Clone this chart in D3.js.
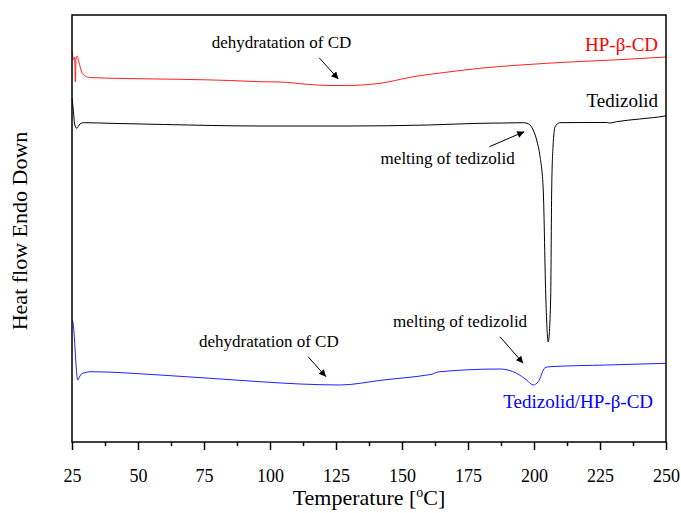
<!DOCTYPE html>
<html>
<head>
<meta charset="utf-8">
<script src="https://cdn.jsdelivr.net/npm/d3@7"></script>
<style>
  body { margin: 0; background: #fff; }
  svg text { font-family: "Liberation Serif", "Times New Roman", serif; }
</style>
</head>
<body>
<div id="chart"></div>
<script>
// DSC curves, temperature in deg C, heat flow in arbitrary units (endo down)
var hpbcd = [
  [25.0, 39.2], [25.6, 38.2], [26.0, 38.5], [26.3, 36.0], [26.5, 38.3], [26.9, 38.6],
  [27.6, 38.0], [28.7, 37.0], [30.0, 36.6], [31.8, 36.45], [45, 36.35], [65.9, 36.27],
  [85, 36.15], [96.2, 36.03], [103.8, 36.0], [115, 35.75], [122.7, 35.65], [129, 35.65],
  [141.7, 35.87], [154.3, 36.53], [166, 36.95], [179.5, 37.37], [192, 37.65], [204.8, 37.87],
  [217, 38.05], [230, 38.2], [240, 38.35], [250, 38.5]
];
var tedizolid = [
  [25.0, 34.4], [25.5, 33.2], [26.0, 31.8], [26.8, 31.37], [28.0, 31.8], [29.3, 31.93],
  [39.4, 31.87], [60, 31.75], [96.2, 31.6], [130, 31.6], [160, 31.7], [179.5, 31.87],
  [188.3, 31.9], [196.0, 31.93], [198.0, 31.8], [199.7, 31.2], [201.2, 30.0], [202.3, 28.53],
  [203.5, 25.2], [204.5, 14.2], [205.4, 10.0], [206.3, 14.2], [206.7, 25.2], [207.2, 29.5],
  [208.0, 31.53], [209.8, 31.93], [220, 31.95], [227.5, 31.95], [228.8, 31.9], [231.3, 32.03],
  [240, 32.3], [249.6, 32.6], [250, 32.62]
];
var complex = [
  [25.0, 12.2], [25.3, 12.03], [27.2, 6.2], [27.8, 6.5], [28.8, 6.85], [29.9, 6.93],
  [31.8, 7.03], [58.3, 6.7], [96.2, 6.03], [111.4, 5.8], [126.5, 5.7], [142.8, 6.2],
  [159.5, 6.7], [161.7, 6.8], [162.9, 6.95], [164.4, 7.03], [187.1, 7.3], [193.4, 6.87],
  [197.2, 6.2], [199.7, 5.7], [201.6, 6.03], [204.2, 7.43], [206.1, 7.53], [227.5, 7.7],
  [250, 7.87]
];

var xTicks = [25, 50, 75, 100, 125, 150, 175, 200, 225, 250];
var xMinor = [37.5, 62.5, 87.5, 112.5, 137.5, 162.5, 187.5, 212.5, 237.5];

// series labels: [text, T, heat flow, colour]
var seriesLabels = [
  ["HP-\u03b2-CD", 247.0, 39.15, "#ff0000"],
  ["Tedizolid", 247.0, 33.53, "#000000"],
  ["Tedizolid/HP-\u03b2-CD", 245.1, 3.4, "#0000ff"]
];
// annotations: [text, textT, textV, fromT, fromV, toT, toV]
var notes = [
  ["dehydratation of CD", 77.9, 39.4, 118.6, 38.43, 125.9, 36.3],
  ["melting of tedizolid", 141.9, 27.8, 183.1, 29.53, 196.3, 31.03],
  ["dehydratation of CD", 73.1, 9.5, 114.4, 8.53, 121.2, 6.53],
  ["melting of tedizolid", 146.6, 11.5, 187.1, 10.53, 195.9, 7.87]
];

var margin = {top: 15, right: 15, bottom: 71, left: 72},
    width = 681 - margin.left - margin.right,
    height = 513 - margin.top - margin.bottom;

var svg = d3.select("#chart").append("svg")
    .attr("width", 681)
    .attr("height", 513)
  .append("g")
    .attr("transform", "translate(" + margin.left + "," + margin.top + ")");

var x = d3.scaleLinear().domain([25, 250]).range([0, width]);
var y = d3.scaleLinear().domain([0, 42.7]).range([height, 0]);

var line = d3.line()
    .x(function(d) { return x(d[0]); })
    .y(function(d) { return y(d[1]); })
    .curve(d3.curveMonotoneX);

// curves
[[hpbcd, "#ff2020"], [tedizolid, "#000000"], [complex, "#2020ff"]].forEach(function(s) {
  svg.append("path")
      .datum(s[0])
      .attr("fill", "none")
      .attr("stroke", s[1])
      .attr("stroke-width", 1)
      .attr("d", line);
});

// minor ticks
var minorAxis = svg.append("g")
    .attr("transform", "translate(0," + height + ")")
    .call(d3.axisBottom(x).tickValues(xMinor).tickSize(4).tickFormat(""));
minorAxis.select(".domain").remove();
minorAxis.selectAll("line").attr("stroke-width", 1.5);

// x axis
var xAxis = svg.append("g")
    .attr("transform", "translate(0," + height + ")")
    .attr("font-family", "'Liberation Serif', serif")
    .attr("font-size", 18)
    .call(d3.axisBottom(x).tickValues(xTicks).tickSize(8).tickPadding(19).tickFormat(d3.format("d")));
xAxis.attr("font-family", "'Liberation Serif', serif").attr("font-size", 18);
xAxis.select(".domain").remove();
xAxis.selectAll("line").attr("stroke-width", 1.5);
xAxis.selectAll("text").attr("fill", "#000");

// frame
svg.append("rect")
    .attr("width", width)
    .attr("height", height)
    .attr("fill", "none")
    .attr("stroke", "#000")
    .attr("stroke-width", 1.5);

// axis titles
var xt = svg.append("text")
    .attr("x", width / 2)
    .attr("y", height + 63)
    .attr("text-anchor", "middle")
    .style("font-size", "22px")
    .text("Temperature [");
xt.append("tspan").attr("dy", -8).style("font-size", "14px").text("o");
xt.append("tspan").attr("dy", 8).text("C]");

svg.append("text")
    .attr("transform", "translate(" + (27 - margin.left) + "," + (231 - margin.top) + ") rotate(-90)")
    .attr("text-anchor", "middle")
    .style("font-size", "22px")
    .text("Heat flow Endo Down");

// arrowhead
svg.append("defs").append("marker")
    .attr("id", "arrow")
    .attr("viewBox", "0 0 10 10")
    .attr("refX", 10)
    .attr("refY", 5)
    .attr("markerWidth", 11)
    .attr("markerHeight", 7)
    .attr("markerUnits", "userSpaceOnUse")
    .attr("orient", "auto")
  .append("path")
    .attr("d", "M0,0L10,5L0,10Z")
    .attr("fill", "#000");

notes.forEach(function(n) {
  svg.append("text")
      .attr("x", x(n[1]))
      .attr("y", y(n[2]))
      .style("font-size", "17px")
      .text(n[0]);
  svg.append("line")
      .attr("x1", x(n[3])).attr("y1", y(n[4]))
      .attr("x2", x(n[5])).attr("y2", y(n[6]))
      .attr("stroke", "#000")
      .attr("stroke-width", 1)
      .attr("marker-end", "url(#arrow)");
});

seriesLabels.forEach(function(l) {
  svg.append("text")
      .attr("x", x(l[1]))
      .attr("y", y(l[2]))
      .attr("text-anchor", "end")
      .attr("fill", l[3])
      .style("font-size", "19px")
      .text(l[0]);
});
</script>
</body>
</html>
